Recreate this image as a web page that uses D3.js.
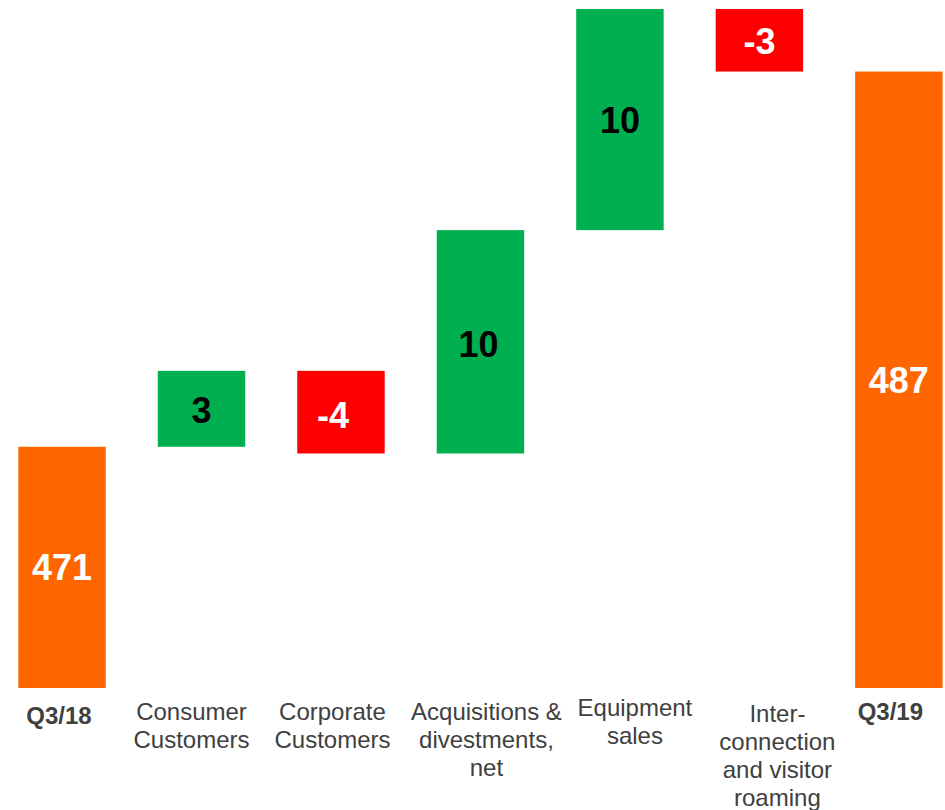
<!DOCTYPE html>
<html>
<head>
<meta charset="utf-8">
<script src="https://cdn.jsdelivr.net/npm/d3@7"></script>
<style>
  html, body { margin: 0; padding: 0; background: #ffffff; }
  svg { display: block; }
</style>
</head>
<body>
<svg id="chart" width="945" height="810"></svg>
<script>
// ---------- data ----------
const categories = [
  "Q3/18",
  "Consumer\nCustomers",
  "Corporate\nCustomers",
  "Acquisitions &\ndivestments,\nnet",
  "Equipment\nsales",
  "Inter-\nconnection\nand visitor\nroaming",
  "Q3/19"
];
const barTypes = ["total", "delta", "delta", "delta", "delta", "delta", "total"];
const values = [470.6, 3.4, -3.7, 10.0, 9.9, -2.8, 487.4];
const axisFloor = 459.8;   // value at the bottom of the (broken) axis

// ---------- layout ----------
const W = 945, H = 810;
const plotTop = 9, plotBottom = 688;
const labelShiftX = [-3, -10, -8.5, 6, 15, 18, -8.5];
const labelBaseY = [724, 720, 720, 720, 716, 721.5, 720];
const valueShiftX = [0, 0, -8, -2, 0, 0, 0];
const valueShiftY = [0, 1, 3, 2, 0, 1, 0];
const lineH = 28;
const colors = { total: "#FF6600", up: "#00B050", down: "#FF0000" };

// ---------- build waterfall ----------
let running = 0;
const bars = categories.map((c, i) => {
  const t = barTypes[i], v = values[i];
  let y0, y1, kind;
  if (t === "total") {
    y0 = axisFloor; y1 = v; running = v; kind = "total";
  } else {
    y0 = running; y1 = running + v; running = y1; kind = v >= 0 ? "up" : "down";
  }
  return { cat: c, i, v, lo: Math.min(y0, y1), hi: Math.max(y0, y1), kind };
});

const x = d3.scaleBand()
  .domain(categories)
  .range([18.3, 942.6])
  .paddingInner(0.373)
  .paddingOuter(0);

const y = d3.scaleLinear()
  .domain([axisFloor, d3.max(bars, d => d.hi)])
  .range([plotBottom, plotTop]);

const svg = d3.select("#chart");

svg.append("g").selectAll("rect")
  .data(bars)
  .join("rect")
  .attr("x", d => x(d.cat))
  .attr("width", x.bandwidth())
  .attr("y", d => y(d.hi))
  .attr("height", d => y(d.lo) - y(d.hi))
  .attr("fill", d => colors[d.kind]);

const fmt = v => String(Math.round(v));   // plain hyphen-minus as in the source

svg.append("g").selectAll("text")
  .data(bars)
  .join("text")
  .attr("x", d => x(d.cat) + x.bandwidth() / 2 + valueShiftX[d.i])
  .attr("y", d => (y(d.lo) + y(d.hi)) / 2 + valueShiftY[d.i])
  .attr("dy", "0.36em")
  .attr("text-anchor", "middle")
  .attr("font-family", "'Liberation Sans', Arial, sans-serif")
  .attr("font-weight", "bold")
  .attr("font-size", 36)
  .attr("fill", d => d.kind === "up" ? "#000000" : "#ffffff")
  .text(d => fmt(d.v));

const lab = svg.append("g").selectAll("text")
  .data(bars)
  .join("text")
  .attr("x", d => x(d.cat) + x.bandwidth() / 2 + labelShiftX[d.i])
  .attr("y", d => labelBaseY[d.i])
  .attr("text-anchor", "middle")
  .attr("font-family", "'Liberation Sans', Arial, sans-serif")
  .attr("font-size", 24)
  .attr("font-weight", d => d.kind === "total" ? "bold" : "normal")
  .attr("fill", "#404040");

lab.each(function(d) {
  const t = d3.select(this);
  d.cat.split("\n").forEach((line, k) => {
    t.append("tspan")
      .attr("x", x(d.cat) + x.bandwidth() / 2 + labelShiftX[d.i])
      .attr("y", labelBaseY[d.i] + k * lineH)
      .text(line);
  });
});
</script>
</body>
</html>
